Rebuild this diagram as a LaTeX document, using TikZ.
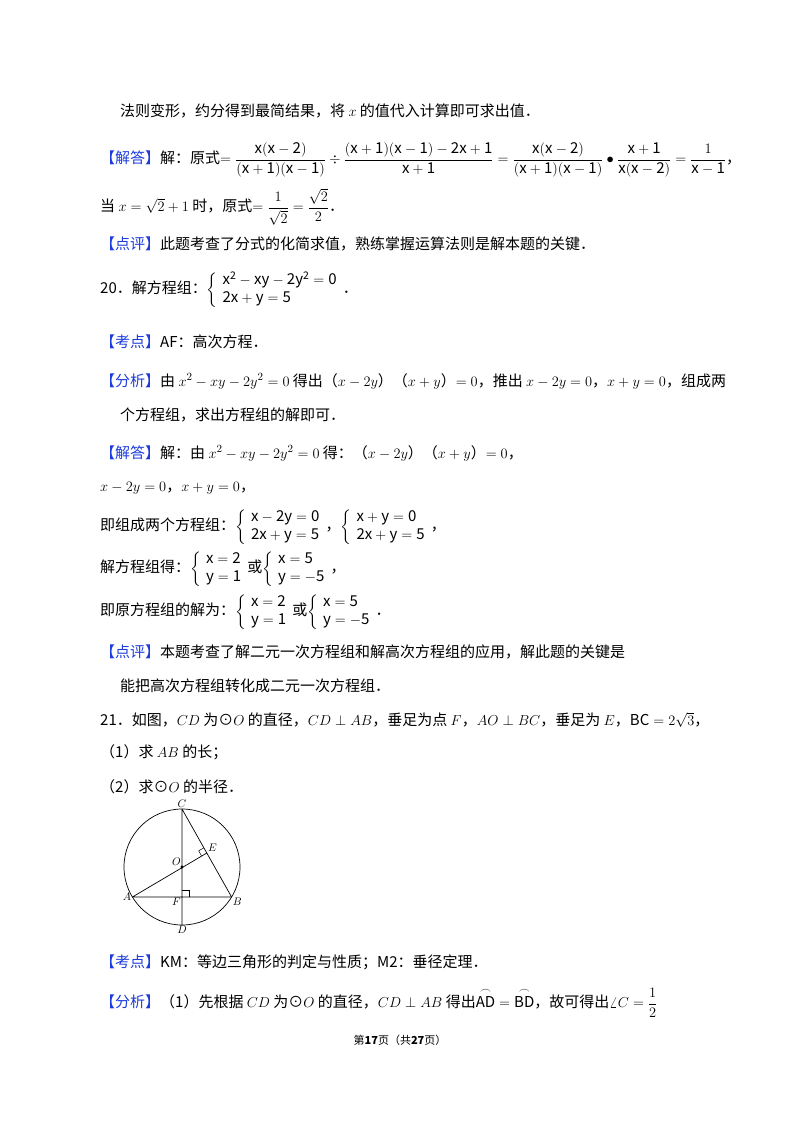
\documentclass[tikz,border=0pt]{standalone}
\usetikzlibrary{calc}
\usepackage{amsmath}
\usepackage{fontspec}
\setmainfont{Noto Sans CJK SC}
\definecolor{lb}{RGB}{30,60,220}
\newcommand{\lab}[1]{\textcolor{lb}{【#1】}}
\begin{document}
\begin{tikzpicture}[x=1pt,y=-1pt,
  t/.style={anchor=west,inner sep=0pt,font=\fontsize{15}{18}\selectfont},
  pl/.style={font=\fontsize{11}{12}\selectfont,inner sep=1pt}]
\useasboundingbox (0,0) rectangle (800,1132);
\fill[white] (0,0) rectangle (800,1132);
\node[t] (l1) at (120,111) {法则变形，约分得到最简结果，将 $x$ 的值代入计算即可求出值．};
\node[t] (l2) at (100,160) {\lab{解答}解：原式$=\dfrac{\mathrm{x(x-2)}}{\mathrm{(x+1)(x-1)}}\div\dfrac{\mathrm{(x+1)(x-1)-2x+1}}{\mathrm{x+1}}=\dfrac{\mathrm{x(x-2)}}{\mathrm{(x+1)(x-1)}}\bullet\dfrac{\mathrm{x+1}}{\mathrm{x(x-2)}}=\dfrac{1}{\mathrm{x-1}}$，};
\node[t] (l3) at (100,207) {当 $x=\sqrt{2}+1$ 时，原式$=\dfrac{1}{\sqrt{2}}=\dfrac{\sqrt{2}}{2}$．};
\node[t] (l4) at (100,244) {\lab{点评}此题考查了分式的化简求值，熟练掌握运算法则是解本题的关键．};
\node[t] (l5) at (100,290) {20．解方程组：$\left\{\begin{array}{l}\mathrm{x^2-xy-2y^2=0}\\ \mathrm{2x+y=5}\end{array}\right.$．};
\node[t] (l6) at (100,342) {\lab{考点}AF：高次方程．};
\node[t] (l7) at (100,381) {\lab{分析}由 $x^2-xy-2y^2=0$ 得出（$x-2y$）（$x+y$）$=0$，推出 $x-2y=0$，$x+y=0$，组成两};
\node[t] (l8) at (120,415) {个方程组，求出方程组的解即可．};
\node[t] (l9) at (100,453) {\lab{解答}解：由 $x^2-xy-2y^2=0$ 得：（$x-2y$）（$x+y$）$=0$，};
\node[t] (l10) at (100,488) {$x-2y=0$，$x+y=0$，};
\node[t] (l11) at (100,527) {即组成两个方程组：$\left\{\begin{array}{l}\mathrm{x-2y=0}\\ \mathrm{2x+y=5}\end{array}\right.$，$\left\{\begin{array}{l}\mathrm{x+y=0}\\ \mathrm{2x+y=5}\end{array}\right.$，};
\node[t] (l12) at (100,569) {解方程组得：$\left\{\begin{array}{l}\mathrm{x=2}\\ \mathrm{y=1}\end{array}\right.$或$\left\{\begin{array}{l}\mathrm{x=5}\\ \mathrm{y=-5}\end{array}\right.$，};
\node[t] (l13) at (100,612) {即原方程组的解为：$\left\{\begin{array}{l}\mathrm{x=2}\\ \mathrm{y=1}\end{array}\right.$或$\left\{\begin{array}{l}\mathrm{x=5}\\ \mathrm{y=-5}\end{array}\right.$．};
\node[t] (l14) at (100,652) {\lab{点评}本题考查了解二元一次方程组和解高次方程组的应用，解此题的关键是};
\node[t] (l15) at (120,686) {能把高次方程组转化成二元一次方程组．};
\node[t] (l16) at (100,720) {21．如图，$CD$ 为⊙$O$ 的直径，$CD\perp AB$，垂足为点 $F$，$AO\perp BC$，垂足为 $E$，$\mathrm{BC}=2\sqrt{3}$，};
\node[t] (l17) at (100,752) {（1）求 $AB$ 的长；};
\node[t] (l18) at (100,787) {（2）求⊙$O$ 的半径．};
% figure
\coordinate (O) at (182,867);
\coordinate (C) at (182,809);
\coordinate (D) at (182,925);
\coordinate (F) at (182,897);
\coordinate (A) at (132.4,897);
\coordinate (B) at (231.6,897);
\coordinate (E) at ($(C)!(O)!(B)$);
\coordinate (E1) at ($(E)!6pt!(C)$);
\coordinate (E2) at ($(E)!6pt!(A)$);
\draw[line width=0.7pt] (O) circle (58);
\draw[line width=0.7pt] (C) -- (D) (A) -- (B) (C) -- (B) (A) -- (E);
\fill (O) circle (1.6);
\draw[line width=0.5pt] ($(F)+(0,-7)$) -- ++(7,0) -- ++(0,7);
\draw[line width=0.5pt] (E1) -- ($(E1)+(E2)-(E)$) -- (E2);
\node[pl,above] (lC) at (C) {$C$};
\node[pl,below] (lD) at (D) {$D$};
\node[pl,left] (lA) at (A) {$A$};
\node[pl,below right] (lB) at (B) {$B$};
\node[pl,above right] (lE) at (E) {$E$};
\node[pl,above left] (lO) at (O) {$O$};
\node[pl,below left] (lF) at (F) {$F$};
\node[t] (l19) at (100,962) {\lab{考点}KM：等边三角形的判定与性质；M2：垂径定理．};
\node[t] (l20) at (100,1003) {\lab{分析}（1）先根据 $CD$ 为⊙$O$ 的直径，$CD\perp AB$ 得出$\overset{\frown}{\mathrm{AD}}=\overset{\frown}{\mathrm{BD}}$，故可得出$\angle C=\dfrac{1}{2}$};
\node[inner sep=0pt,font=\fontsize{11}{13}\selectfont] (pg) at (400,1040) {第\textbf{17}页（共\textbf{27}页）};
\end{tikzpicture}
\end{document}
